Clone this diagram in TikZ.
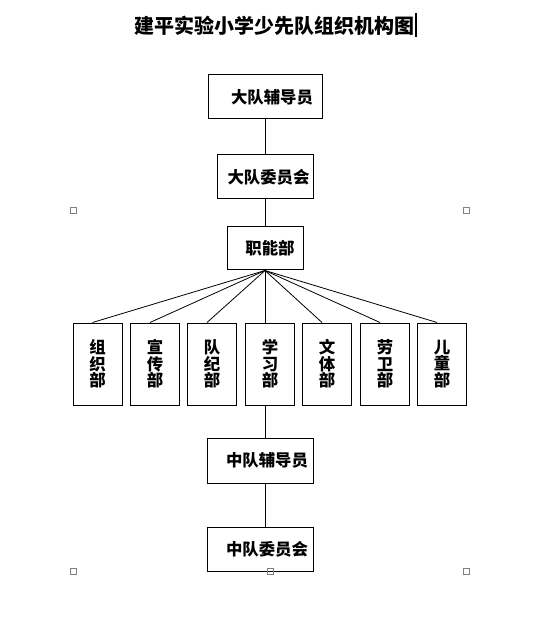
\documentclass[tikz,border=0pt]{standalone}
\usepackage{fontspec}
\setmainfont{Noto Sans CJK SC}
\usepackage{tikz}

\begin{document}
\begin{tikzpicture}[x=0.75pt,y=-0.75pt,
    box/.style={draw,thick=false,line width=0.75pt,inner sep=0pt,
      font=\fontsize{12.3}{12.3}\selectfont\bfseries},
    deptbox/.style={box,minimum width=36.75pt,minimum height=61.5pt,align=center},
    handle/.style={draw=gray,line width=0.5pt,minimum size=4.5pt,inner sep=0pt}]
    \useasboundingbox (0,0) rectangle (546,630);

    % Title
    \node[font=\fontsize{15}{15}\selectfont\bfseries] (title) at (274.5,26) {建平实验小学少先队组织机构图};
    \coordinate (cursor) at (416,13);
    \draw[line width=1.2pt] (cursor) -- ++(0,24);

    % Top chain
    \node[box,minimum width=85.5pt,minimum height=33pt] (fudaoyuan) at (265,97) {\hspace{10.5pt}大队辅导员};
    \node[box,minimum width=72pt,minimum height=33pt] (weiyuanhui) at (265,177) {\hspace{5.25pt}大队委员会};
    \node[box,minimum width=57pt,minimum height=32.25pt] (zhineng) at (265,248.5) {\hspace{7.5pt}职能部};

    % Departments
    \node[deptbox] (zuzhi) at (97.5,364) {组\\织\\部};
    \node[deptbox] (xuanchuan) at (155,364) {宣\\传\\部};
    \node[deptbox] (duiji) at (212,364) {队\\纪\\部};
    \node[deptbox] (xuexi) at (270,364) {学\\习\\部};
    \node[deptbox] (wenti) at (327,364) {文\\体\\部};
    \node[deptbox] (laowei) at (385,364) {劳\\卫\\部};
    \node[deptbox] (ertong) at (442,364) {儿\\童\\部};

    % Bottom chain
    \node[box,minimum width=79.5pt,minimum height=33.75pt] (zfudaoyuan) at (260,460.5) {\hspace{10.5pt}中队辅导员};
    \node[box,minimum width=79.5pt,minimum height=33pt] (zweiyuanhui) at (260,549) {\hspace{10.5pt}中队委员会};

    % Connectors
    \draw[line width=0.75pt] (fudaoyuan) -- (weiyuanhui);
    \draw[line width=0.75pt] (weiyuanhui) -- (zhineng);
    \foreach \d in {zuzhi,xuanchuan,duiji,xuexi,wenti,laowei,ertong}
      \draw[line width=0.6pt] (zhineng.south) -- ([xshift=-3.75pt]\d.north);
    \draw[line width=0.75pt] (xuexi.south -| zhineng) -- (zfudaoyuan.north -| zhineng);
    \draw[line width=0.75pt] (zfudaoyuan.south -| zhineng) -- (zweiyuanhui.north -| zhineng);

    % Selection handles
    \node[handle] (h1) at (73,210) {};
    \node[handle] (h2) at (466,210) {};
    \node[handle] (h3) at (73,571) {};
    \node[handle] (h4) at (270,571) {};
    \node[handle] (h5) at (466,571) {};
\end{tikzpicture}
\end{document}
